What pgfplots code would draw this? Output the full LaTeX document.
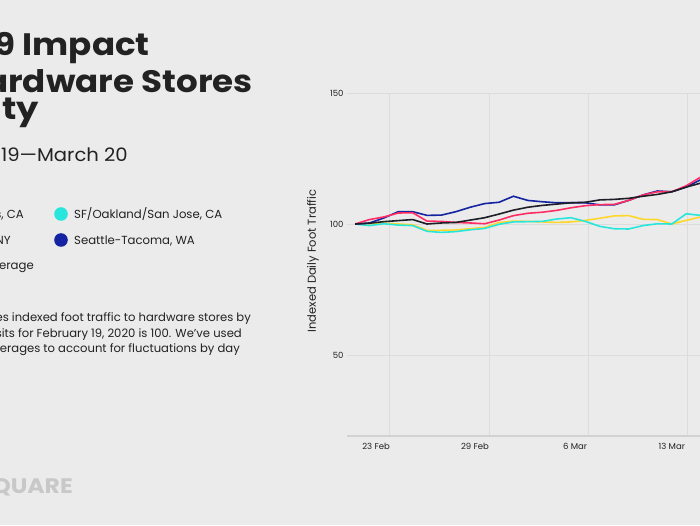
\documentclass[border=0pt]{standalone}
\usepackage{fontspec}
\setmainfont{Poppins}
\usepackage{pgfplots}
\pgfplotsset{compat=1.18}
\definecolor{bg}{HTML}{EBEBEB}
\definecolor{txt}{HTML}{222222}
\definecolor{gridc}{HTML}{DCDCDC}
\definecolor{axisc}{HTML}{D2D2D2}
\definecolor{pinkc}{HTML}{FF2D64}
\definecolor{yellowc}{HTML}{FFD728}
\definecolor{cyanc}{HTML}{28E6DC}
\definecolor{bluec}{HTML}{1423A0}
\definecolor{blackc}{HTML}{1E1E28}
\definecolor{logoc}{HTML}{C8C8C8}
\begin{document}
\begin{tikzpicture}
\fill[bg] (0pt,0pt) rectangle (700pt,525pt);
% title
\node[anchor=base east, inner sep=0, xscale=1.1, text=txt, font=\fontsize{31}{36}\selectfont\bfseries] at (150pt,469pt) {COVID-19 Impact};
\node[anchor=base east, inner sep=0, xscale=1.1, text=txt, font=\fontsize{31}{36}\selectfont\bfseries] at (253pt,432pt) {on Hardware Stores};
\node[anchor=base east, inner sep=0, xscale=1.14, text=txt, font=\fontsize{31}{36}\selectfont\bfseries] at (39pt,405pt) {by City};
\node[anchor=base east, inner sep=0, xscale=1.06, text=txt, font=\fontsize{18.5}{22}\selectfont] at (128pt,363pt) {February 19—March 20};
% legend
\node[anchor=base east, inner sep=0, text=txt, font=\fontsize{11.7}{15}\selectfont] at (24pt,306pt) {Los Angeles, CA};
\node[anchor=base east, inner sep=0, text=txt, font=\fontsize{11.7}{15}\selectfont] at (11pt,280pt) {New York, NY};
\node[anchor=base east, inner sep=0, text=txt, font=\fontsize{11.7}{15}\selectfont] at (34pt,255pt) {National Average};
\fill[cyanc] (61pt,311pt) circle (6.8pt);
\node[anchor=base west, inner sep=0, text=txt, font=\fontsize{11.7}{15}\selectfont] at (74pt,306pt) {SF/Oakland/San Jose, CA};
\fill[bluec] (61pt,285pt) circle (6.8pt);
\node[anchor=base west, inner sep=0, text=txt, font=\fontsize{11.7}{15}\selectfont] at (74pt,280pt) {Seattle-Tacoma, WA};
% note
\node[anchor=base east, inner sep=0, text=txt, font=\fontsize{11.6}{15}\selectfont] at (251pt,204pt) {This chart compares indexed foot traffic to hardware stores by};
\node[anchor=base east, inner sep=0, text=txt, font=\fontsize{11.6}{15}\selectfont] at (242pt,188pt) {city, where visits for February 19, 2020 is 100. We’ve used};
\node[anchor=base east, inner sep=0, text=txt, font=\fontsize{11.6}{15}\selectfont] at (240pt,173pt) {7-day moving averages to account for fluctuations by day};
% logo
\node[anchor=base east, inner sep=0, xscale=1.12, text=logoc, font=\fontsize{21}{24}\selectfont\bfseries] at (73pt,32pt) {FOURSQUARE};
% y label
\node[rotate=90, inner sep=0, text=txt, font=\fontsize{11.5}{13}\selectfont] at (313pt,264pt) {Indexed Daily Foot Traffic};
\begin{axis}[
  at={(347pt,89pt)}, anchor=south west, scale only axis,
  width=440pt, height=343pt,
  xmin=-0.56, xmax=30, ymin=19.1, ymax=150,
  axis line style={draw=none},
  major tick length=0,
  ytick={50,100,150},
  ymajorgrids, grid style={gridc, line width=0.9pt},
  xtick={1.46,8.33,15.28,22},
  xticklabels={23 Feb, 29 Feb, 6 Mar, 13 Mar},
  extra x ticks={2.36,9.3,16.2,23.1},
  extra x tick labels={},
  extra x tick style={grid=major},
  tick label style={font=\fontsize{8.5}{10}\selectfont, text=txt},
  /pgf/number format/assume math mode=true,
  xticklabel style={yshift=-4pt},
  clip=true,
]
\draw[axisc, line width=1.3pt] (rel axis cs:0,0) -- (rel axis cs:1,0);
\addplot[yellowc, line width=1.6pt] coordinates {(0,100)(1,100.1)(2,100.3)(3,100.0)(4,99.7)(5,97.6)(6,97.6)(7,97.7)(8,98.2)(9,98.7)(10,100.6)(11,101.1)(12,101.0)(13,100.8)(14,100.6)(15,100.8)(16,101.4)(17,102.2)(18,103.1)(19,103.2)(20,101.8)(21,101.7)(22,100.0)(23,101.4)(24,102.7)};
\addplot[cyanc, line width=1.6pt] coordinates {(0,100)(1,99.4)(2,100.1)(3,99.6)(4,99.4)(5,97.2)(6,96.8)(7,97.1)(8,97.8)(9,98.3)(10,99.9)(11,100.8)(12,100.9)(13,101.0)(14,101.9)(15,102.4)(16,101.0)(17,99.1)(18,98.2)(19,98.1)(20,99.4)(21,100.1)(22,100.0)(23,103.9)(24,103.3)};
\addplot[bluec, line width=1.6pt] coordinates {(0,100)(1,100.4)(2,102.3)(3,104.7)(4,104.7)(5,103.3)(6,103.4)(7,104.7)(8,106.4)(9,107.8)(10,108.3)(11,110.6)(12,109.0)(13,108.5)(14,108.1)(15,108.1)(16,108.1)(17,107.3)(18,107.3)(19,109.0)(20,111.1)(21,112.6)(22,112.3)(23,114.1)(24,116.9)};
\addplot[pinkc, line width=1.6pt] coordinates {(0,100)(1,101.7)(2,102.7)(3,104.2)(4,104.3)(5,101.1)(6,101.0)(7,100.6)(8,100.4)(9,100.1)(10,101.5)(11,103.2)(12,104.1)(13,104.5)(14,105.2)(15,106.2)(16,107.0)(17,107.4)(18,107.5)(19,109.0)(20,111.1)(21,112.3)(22,112.3)(23,114.6)(24,117.9)};
\addplot[blackc, line width=1.6pt] coordinates {(0,100)(1,100.3)(2,100.9)(3,101.3)(4,101.7)(5,100.0)(6,100.4)(7,100.6)(8,101.5)(9,102.4)(10,103.8)(11,105.3)(12,106.4)(13,107.1)(14,107.6)(15,108.1)(16,108.3)(17,109.2)(18,109.4)(19,109.8)(20,110.6)(21,111.3)(22,112.3)(23,114.1)(24,115.6)};
\end{axis}
\pgfresetboundingbox
\path[use as bounding box] (0pt,0pt) rectangle (700pt,525pt);
\end{tikzpicture}
\end{document}
